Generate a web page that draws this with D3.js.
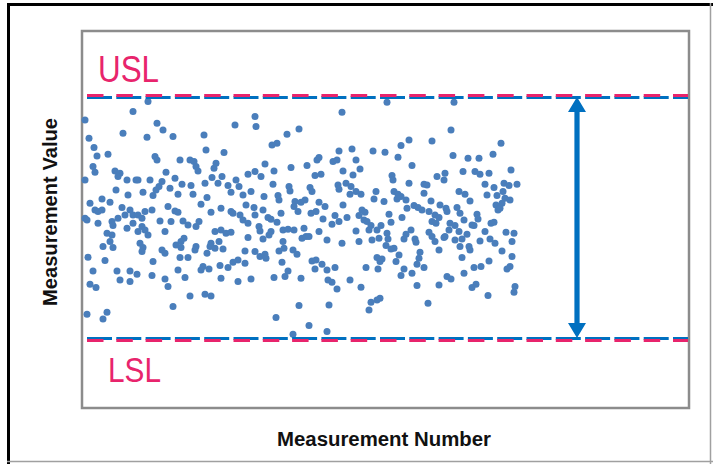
<!DOCTYPE html>
<html><head><meta charset="utf-8">
<script src="https://cdn.jsdelivr.net/npm/d3@7"></script>
<style>html,body{margin:0;padding:0;background:#fff;}svg{display:block;}</style>
</head><body>
<svg id="chart" width="713" height="464"></svg>
<script>
(function(){
const xTitle = "Measurement Number";
const yTitle = "Measurement Value";
const limitLabels = ["USL", "LSL"];
const USL = 12.2;
const LSL = 0;
const arrowAt = 495;

const measurementNumbers = [
51,66,3,41,75,81,65,7,12,15,26,73,75,11,13,33,38,36,84,3,45,54,56,68,80,77,34,61,74,71,46,8,20,28,13,16,20,16,3,5,40,48,51,43,36,30,31,56,60,63,70,86,78,83,45,51,60,63,56,66,25,30,28,21,31,58,61,60,80,83,6,23,71,11,35,48,55,38,48,70,83,8,14,86,5,25,21,
153,173,174,91,122,124,142,98,108,112,114,116,134,132,166,173,93,100,109,123,130,136,140,146,154,157,149,161,169,88,96,111,125,119,164,129,139,149,151,158,161,166,172,173,93,96,89,101,106,117,114,133,139,144,149,166,102,99,94,99,114,113,129,137,128,133,141,125,163,173,98,106,156,151,163,146,138,121,119,127,96,103,139,156,169,108,123,129,91,
260,217,205,195,190,257,237,235,251,255,183,209,225,192,179,261,239,233,191,207,208,228,230,256,257,182,196,197,213,223,219,212,216,237,243,261,181,199,229,234,186,189,195,241,253,250,257,177,178,189,201,206,212,222,237,187,181,220,224,227,245,260,201,202,197,211,215,178,183,184,200,230,234,240,233,245,253,206,203,192,219,246,250,255,217,247,194,227,211,245,
305,327,350,319,270,291,303,316,274,330,278,271,310,311,327,342,345,264,269,274,279,268,294,312,316,319,342,349,292,302,315,324,325,332,336,340,347,280,283,277,307,320,265,282,285,309,289,299,287,295,274,329,305,324,347,290,297,306,322,333,334,350,277,304,312,309,317,338,337,295,300,298,314,335,342,284,296,322,330,319,268,279,335,298,295,289,287,346,
372,369,419,411,371,386,397,429,381,393,398,407,363,355,362,403,412,422,427,435,421,377,383,405,415,388,423,428,420,414,416,418,358,364,365,375,378,353,357,382,395,396,350,354,368,373,390,392,409,412,367,377,385,403,424,432,362,373,380,398,408,353,363,378,387,413,430,357,388,420,380,430,407,392,399,428,425,382,365,369,357,394,390,433,432,406
];

const measurementValues = [
11.42,11.92,11.00,10.34,10.84,10.50,10.14,10.09,9.62,9.20,9.29,9.17,9.00,8.67,8.39,8.45,8.34,8.17,8.39,8.00,8.00,8.00,8.00,8.00,7.92,7.67,7.50,7.39,7.50,7.22,7.25,6.84,7.05,6.89,6.50,6.42,6.50,5.84,6.09,6.00,6.62,6.50,6.25,6.25,6.09,5.92,5.72,6.25,6.09,6.42,6.50,6.67,5.95,5.42,5.59,5.84,5.67,5.50,5.42,5.25,5.34,5.25,4.92,4.67,4.62,4.84,4.62,4.42,4.50,4.34,4.14,3.97,3.92,3.45,3.45,3.45,3.29,3.00,2.92,3.22,3.05,2.79,2.62,2.67,1.29,1.39,1.05,
10.75,11.17,10.67,10.17,10.25,9.50,9.37,9.00,9.00,8.92,8.67,8.45,8.84,8.59,8.29,8.42,8.09,7.79,7.72,7.84,8.12,7.84,8.17,7.72,8.00,7.67,7.39,7.25,7.42,7.59,7.29,7.29,7.12,6.79,6.75,6.39,6.59,6.42,6.34,6.25,6.00,5.84,6.62,6.25,6.45,6.39,5.92,5.95,5.75,5.92,5.67,5.42,5.50,5.34,5.39,5.12,5.09,4.92,4.75,4.62,4.67,4.50,4.84,4.92,4.67,4.59,4.55,4.34,4.45,4.42,4.12,4.12,4.00,3.89,3.84,3.62,3.72,3.67,3.50,3.55,3.50,3.12,3.09,2.92,3.05,2.20,2.29,2.20,1.67,
11.39,10.55,10.29,9.84,9.75,9.45,9.12,9.00,8.92,9.00,8.80,8.62,8.72,8.45,8.17,8.45,8.29,8.22,7.79,7.67,7.45,7.62,7.42,7.75,7.54,7.17,7.22,7.00,6.92,7.00,6.89,6.67,6.42,6.89,6.67,6.75,6.50,6.34,6.34,6.42,6.12,6.04,5.89,6.05,6.22,5.79,5.92,5.67,5.45,5.42,5.50,5.54,5.50,5.59,5.42,5.25,5.05,5.09,5.17,5.17,5.00,4.84,4.92,4.59,4.45,4.50,4.29,4.17,4.29,4.09,3.89,3.95,4.00,3.79,3.55,3.50,3.62,3.45,3.17,3.12,3.09,3.00,2.89,2.55,1.72,1.75,1.12,0.72,0.29,0.42,
11.89,10.00,9.95,9.72,9.55,9.45,9.39,9.14,9.00,8.72,8.55,8.25,8.22,8.00,7.84,7.79,7.75,7.84,7.67,7.42,7.29,7.29,7.42,7.42,7.29,7.17,7.34,6.95,7.05,6.92,7.05,7.00,6.59,6.72,6.62,6.50,6.42,6.50,6.39,6.22,6.29,6.12,6.12,6.00,5.92,5.89,5.72,5.72,5.50,5.50,5.45,5.50,5.34,5.29,5.39,5.00,5.09,5.05,5.05,5.05,4.89,5.17,4.92,4.72,4.59,4.55,4.25,4.39,4.09,4.12,4.05,3.92,3.92,3.79,3.62,3.62,3.55,3.55,3.34,3.22,3.00,2.64,2.72,2.09,2.00,1.89,1.50,1.84,
11.89,10.50,9.84,9.29,9.22,9.09,9.09,8.50,8.42,8.42,8.29,8.34,8.34,8.17,8.00,7.79,7.62,7.84,7.72,7.79,7.42,7.42,7.29,7.25,7.22,6.95,7.09,7.00,6.84,6.75,6.50,6.59,6.75,6.59,6.42,6.62,6.34,6.25,6.12,6.00,6.29,6.05,5.92,5.84,5.84,5.72,5.75,5.72,5.84,5.89,5.50,5.42,5.29,5.42,5.39,5.34,5.12,5.00,5.05,4.95,5.05,4.92,5.17,4.67,4.67,4.84,4.92,4.50,4.50,4.45,4.12,4.17,3.95,3.62,3.67,3.67,3.55,3.34,3.17,3.05,2.75,2.79,2.62,2.67,2.39,2.22
];

const points = measurementNumbers.map((n, i) => ({n, v: measurementValues[i]}));

const svg = d3.select("#chart");
const W = 713, H = 464;
const plot = {left: 82, top: 31, right: 689, bottom: 408};

const x = d3.scaleLinear().domain([0, 607]).range([plot.left, plot.right]);
const y = d3.scaleLinear().domain([-3.4, 15.45]).range([plot.bottom, plot.top]);

const PINK = "#e8246c";
const BLUE = "#0070c0";
const DOT = "#4a7ebb";

// outer frame (screenshot-like)
svg.append("rect").attr("x", 0).attr("y", 0).attr("width", W).attr("height", H).attr("fill", "#fff");
svg.append("line").attr("x1", 7).attr("x2", W).attr("y1", 4.5).attr("y2", 4.5).attr("stroke", "#000").attr("stroke-width", 3);
svg.append("line").attr("x1", 8.5).attr("x2", 8.5).attr("y1", 3).attr("y2", H).attr("stroke", "#000").attr("stroke-width", 3);
svg.append("line").attr("x1", 7).attr("x2", W).attr("y1", 461.5).attr("y2", 461.5).attr("stroke", "#a0a0a0").attr("stroke-width", 1.5);
svg.append("line").attr("x1", 710.5).attr("x2", 710.5).attr("y1", 3).attr("y2", H).attr("stroke", "#a0a0a0").attr("stroke-width", 1.5);

// plot area frame
svg.append("rect")
  .attr("x", plot.left).attr("y", plot.top)
  .attr("width", plot.right - plot.left).attr("height", plot.bottom - plot.top)
  .attr("fill", "#fff").attr("stroke", "#8c8c8c").attr("stroke-width", 2.5);

// points
svg.append("g").selectAll("circle").data(points).join("circle")
  .attr("cx", d => x(d.n)).attr("cy", d => y(d.v)).attr("r", 3.5)
  .attr("fill", DOT);

// spec limit lines
const lineX1 = x(5), lineX2 = plot.right - 1;
const limits = [{v: USL, s: -1}, {v: LSL, s: 1}];
limits.forEach(l => {
  svg.append("line").attr("x1", lineX1).attr("x2", lineX2)
    .attr("y1", y(l.v) - 1.5 * l.s).attr("y2", y(l.v) - 1.5 * l.s)
    .attr("stroke", BLUE).attr("stroke-width", 3).attr("stroke-dasharray", "25,4.3");
  svg.append("line").attr("x1", lineX1).attr("x2", lineX2)
    .attr("y1", y(l.v) + 0.5 * l.s).attr("y2", y(l.v) + 0.5 * l.s)
    .attr("stroke", PINK).attr("stroke-width", 3).attr("stroke-dasharray", "16.5,12.8");
});

// double-headed arrow
const ax = x(arrowAt), aTop = y(USL) + 1, aBot = y(LSL) - 2;
const headL = 15, headW = 9, shaft = 2.6;
svg.append("path")
  .attr("d", `M${ax},${aTop} L${ax + headW},${aTop + headL} L${ax + shaft},${aTop + headL} L${ax + shaft},${aBot - headL} L${ax + headW},${aBot - headL} L${ax},${aBot} L${ax - headW},${aBot - headL} L${ax - shaft},${aBot - headL} L${ax - shaft},${aTop + headL} L${ax - headW},${aTop + headL} Z`)
  .attr("fill", BLUE);

// labels
svg.append("text").text(limitLabels[0])
  .attr("x", 98).attr("y", y(USL) - 14)
  .attr("font-family", "Liberation Sans, Arial, sans-serif").attr("font-size", 36)
  .attr("textLength", 61).attr("lengthAdjust", "spacingAndGlyphs")
  .attr("fill", PINK);
svg.append("text").text(limitLabels[1])
  .attr("x", 108).attr("y", y(LSL) + 42)
  .attr("font-family", "Liberation Sans, Arial, sans-serif").attr("font-size", 35)
  .attr("textLength", 53).attr("lengthAdjust", "spacingAndGlyphs")
  .attr("fill", PINK);

// axis titles
svg.append("text").text(xTitle)
  .attr("x", (277 + 491) / 2).attr("y", 446)
  .attr("text-anchor", "middle")
  .attr("font-family", "Liberation Sans, Arial, sans-serif").attr("font-weight", "bold").attr("font-size", 20)
  .attr("textLength", 214).attr("lengthAdjust", "spacingAndGlyphs")
  .attr("fill", "#111");
svg.append("text").text(yTitle)
  .attr("transform", "translate(57,212) rotate(-90)")
  .attr("text-anchor", "middle")
  .attr("font-family", "Liberation Sans, Arial, sans-serif").attr("font-weight", "bold").attr("font-size", 20)
  .attr("textLength", 188).attr("lengthAdjust", "spacingAndGlyphs")
  .attr("fill", "#111");
})();
</script>
</body></html>
